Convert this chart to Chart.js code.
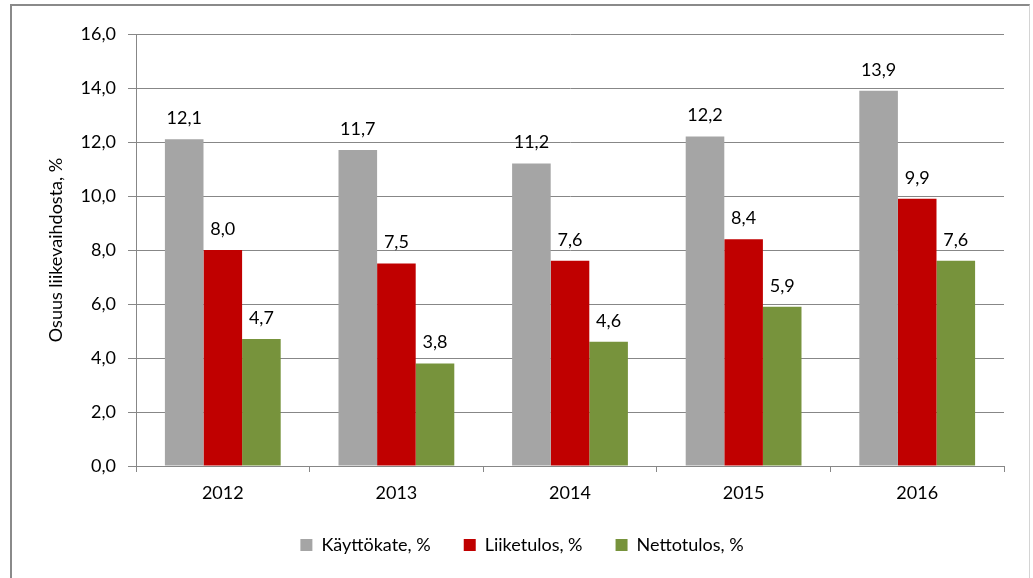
<!DOCTYPE html>
<html>
<head>
<meta charset="utf-8">
<script src="https://cdn.jsdelivr.net/npm/chart.js@4/dist/chart.umd.min.js"></script>
<style>
  html, body { margin: 0; padding: 0; background: #ffffff; }
  #wrap { position: relative; width: 1033px; height: 578px; overflow: hidden; }
  #frame { position: absolute; left: 10px; top: 4px; width: 1020px; height: 600px;
           border-left: 2px solid #8a8a8a; border-top: 2px solid #8a8a8a; border-right: 1px solid #d4d4d4; box-sizing: border-box; }
  canvas { position: absolute; left: 0; top: 0; }
</style>
</head>
<body>
<div id="wrap">
  <div id="frame"></div>
  <canvas id="c" width="1033" height="578"></canvas>
</div>
<script>
const categories = ['2012', '2013', '2014', '2015', '2016'];
const kayttokate = [12.1, 11.7, 11.2, 12.2, 13.9];
const liiketulos = [8.0, 7.5, 7.6, 8.4, 9.9];
const nettotulos = [4.7, 3.8, 4.6, 5.9, 7.6];
const seriesNames = ['Käyttökate, %', 'Liiketulos, %', 'Nettotulos, %'];
const yTitle = 'Osuus liikevaihdosta, %';
const yMin = 0, yMax = 16, yStep = 2;

const FONT = 'Lato, "Liberation Sans", sans-serif';
const fmt = v => v.toFixed(1).replace('.', ',');

const valueLabels = {
  id: 'valueLabels',
  afterDatasetsDraw(chart) {
    const ctx = chart.ctx;
    ctx.save();
    ctx.font = '18px ' + FONT;
    ctx.fillStyle = '#000000';
    ctx.textAlign = 'center';
    ctx.textBaseline = 'middle';
    chart.data.datasets.forEach((ds, i) => {
      chart.getDatasetMeta(i).data.forEach((bar, j) => {
        ctx.fillText(fmt(ds.data[j]), bar.x, bar.y - 21);
      });
    });
    ctx.restore();
  }
};

new Chart(document.getElementById('c'), {
  type: 'bar',
  data: {
    labels: categories,
    datasets: [
      { label: seriesNames[0], data: kayttokate, backgroundColor: '#A5A5A5' },
      { label: seriesNames[1], data: liiketulos, backgroundColor: '#C00000' },
      { label: seriesNames[2], data: nettotulos, backgroundColor: '#77933C' }
    ]
  },
  options: {
    responsive: false,
    animation: false,
    devicePixelRatio: 1,
    layout: { padding: { left: 40, right: 29, top: 34, bottom: 14 } },
    datasets: { bar: { categoryPercentage: 0.667, barPercentage: 1.0 } },
    plugins: {
      tooltip: { enabled: false },
      legend: {
        position: 'bottom',
        labels: {
          font: { family: FONT, size: 18 },
          color: '#000000',
          boxWidth: 12,
          boxHeight: 12,
          padding: 33
        }
      }
    },
    scales: {
      x: {
        afterFit: s => { s.height = 37; },
        grid: { display: true, drawOnChartArea: false, offset: true, tickLength: 6, color: '#878787', lineWidth: 1 },
        border: { display: true, color: '#878787', width: 1 },
        ticks: { font: { family: FONT, size: 18 }, color: '#000000', padding: 10, maxRotation: 0 }
      },
      y: {
        min: yMin, max: yMax,
        afterFit: s => { s.width = 96; },
        grid: { color: '#878787', lineWidth: 1, tickLength: 8 },
        border: { display: true, color: '#878787', width: 1 },
        ticks: { stepSize: yStep, font: { family: FONT, size: 18 }, color: '#000000', padding: 12, callback: v => fmt(v) },
        title: { display: true, text: yTitle, font: { family: FONT, size: 18 }, color: '#000000', padding: { top: 5, bottom: 0 } }
      }
    }
  },
  plugins: [valueLabels]
});
</script>
</body>
</html>
